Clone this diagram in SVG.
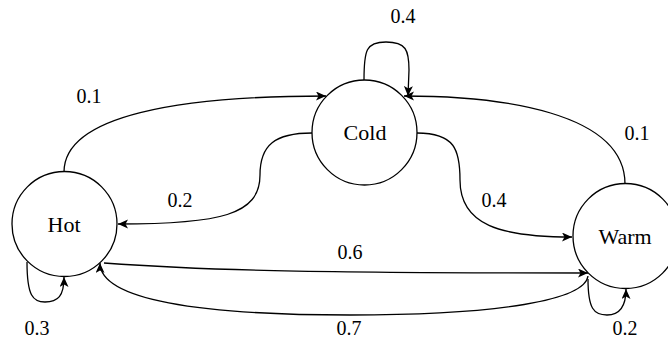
<svg xmlns="http://www.w3.org/2000/svg" width="668" height="341" viewBox="0 0 668 341">
<style>
.node{fill:#fff;stroke:#000;stroke-width:1.3}
.edge{fill:none;stroke:#000;stroke-width:1.3;marker-end:url(#arr)}
text{font-family:'Liberation Serif','Times New Roman',Times,serif;text-anchor:middle;fill:#000}
.nt{font-size:22px}
.lt{font-size:20px}
</style>
<defs>
<marker id="arr" markerUnits="userSpaceOnUse" markerWidth="12" markerHeight="10" refX="10" refY="4.5" orient="auto">
<path d="M0,0 L10,4.5 L0,9 L2.5,4.5 z" fill="#000"/>
</marker>
</defs>
<rect width="668" height="341" fill="#fff"/>
<g id="connectors">
<path class="edge" d="M64,172 C64,115 180,96 326,96"/>
<path class="edge" d="M312,133 C275,133 260,145 260,175 C260,215 220,224 118,224"/>
<path class="edge" d="M417,133 C455,133 460,150 460,180 C460,225 500,237 572,237"/>
<path class="edge" d="M625,184 C625,112 500,96 404,96"/>
<path class="edge" d="M364,80 C364,50 366,42 386,42 C406,42 409,50 409,70 L408,96"/>
<path class="edge" d="M104,263 C200,270 300,273 588,273"/>
<path class="edge" d="M588,276 C585,300 500,315 350,315 C200,315 100,300 100,263"/>
<path class="edge" d="M27,262 C27,296 33,302 45,302 C58,302 64,296 64,277"/>
<path class="edge" d="M588,279 C588,309 594,315 607,315 C620,315 626,306 626,289"/>
</g>
<g id="hot"><circle class="node" cx="64.5" cy="224" r="52.5"/><text class="nt" x="64" y="232">Hot</text></g>
<g id="cold"><circle class="node" cx="364.5" cy="132.5" r="52.5"/><text class="nt" x="365" y="140">Cold</text></g>
<g id="warm"><circle class="node" cx="625.5" cy="236" r="52.5"/><text class="nt" x="625" y="244">Warm</text></g>
<g id="labels">
<text class="lt" x="89" y="103">0.1</text>
<text class="lt" x="180" y="207">0.2</text>
<text class="lt" x="403" y="23">0.4</text>
<text class="lt" x="494" y="207">0.4</text>
<text class="lt" x="637" y="140">0.1</text>
<text class="lt" x="350" y="259">0.6</text>
<text class="lt" x="349" y="335">0.7</text>
<text class="lt" x="37" y="335">0.3</text>
<text class="lt" x="625" y="335">0.2</text>
</g>
</svg>
